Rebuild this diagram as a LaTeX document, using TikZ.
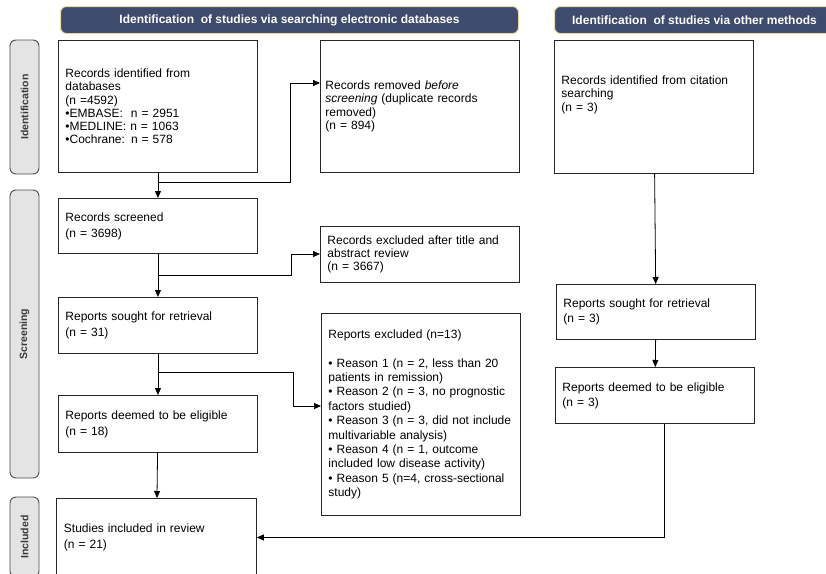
\documentclass[tikz,border=0pt]{standalone}
\usepackage{fontspec}
\setmainfont{Liberation Sans}
\usepackage{tikz}
\usetikzlibrary{arrows.meta, positioning, calc}
\definecolor{hdrblue}{HTML}{3F4B6C}
\definecolor{hdredge}{HTML}{E6DBA2}
\definecolor{sidegray}{HTML}{E4E4E4}
\definecolor{sidetext}{HTML}{3A3A3A}

\begin{document}
\begin{tikzpicture}[x=1pt, y=-1pt,
    box/.style={rectangle, draw=black!85, line width=0.9pt, anchor=north west, align=left, text width=185pt, inner xsep=7pt, minimum width=199pt, font=\fontsize{12}{16}\selectfont},
    hdr/.style={rectangle, rounded corners=6pt, draw=hdredge, fill=hdrblue, line width=1pt, anchor=north west, minimum height=27pt, text=white, font=\fontsize{12}{14}\selectfont\bfseries},
    side/.style={rectangle, rounded corners=6pt, draw=black!70, fill=sidegray, line width=0.9pt, rotate=90, minimum height=29pt, text=sidetext, font=\fontsize{10.5}{12}\selectfont\bfseries},
    arrow/.style={-{Triangle[length=7pt, width=6pt]}, line width=0.8pt}
]
\useasboundingbox (0,0) rectangle (826,573);
\clip (0,0) rectangle (826,573);

% headers and phase labels
\node[hdr, minimum width=458pt] (hdrdb) at (60,6) {Identification~ of studies via searching electronic databases};
\node[hdr, minimum width=280pt] (hdrother) at (554,6) {Identification~ of studies via other methods};
\node[side, minimum width=134pt] (labid) at (24.5,107) {Identification};
\node[side, minimum width=288pt] (labscr) at (24.5,334) {Screening};
\node[side, minimum width=80pt] (labinc) at (24.5,537) {Included};

% databases
\node[box, minimum height=132pt, font=\fontsize{12}{13.3}\selectfont] (db) at (58,40) {Records identified from\\databases\\(n =4592)\\•EMBASE:~ n = 2951\\•MEDLINE: n = 1063\\•Cochrane: n = 578};
\node[box, minimum height=132pt, inner xsep=5pt, text width=189pt, font=\fontsize{12}{13.3}\selectfont] (removed) at (320,40) {Records removed \textit{before}\\\textit{screening} (duplicate records\\removed)\\(n = 894)};
\node[box, minimum height=55pt] (screened) at (58,198) {Records screened\\(n = 3698)};
\node[box, minimum height=56pt, font=\fontsize{12}{13.3}\selectfont] (titleexcl) at (320,226) {Records excluded after title and\\abstract review\\(n = 3667)};
\node[box, minimum height=56pt] (sought) at (58,297) {Reports sought for retrieval\\(n = 31)};
\node[box, minimum height=202pt, font=\fontsize{12}{14.4}\selectfont] (repexcl) at (321,313) {Reports excluded (n=13)\\[14.4pt]• Reason 1 (n = 2, less than 20\\patients in remission)\\• Reason 2 (n = 3, no prognostic\\factors studied)\\• Reason 3 (n = 3, did not include\\multivariable analysis)\\• Reason 4 (n = 1, outcome\\included low disease activity)\\• Reason 5 (n=4, cross-sectional\\study)};
\node[box, minimum height=57pt] (eligible) at (58,395) {Reports deemed to be eligible\\(n = 18)};
\node[box, minimum height=78pt, minimum width=200pt] (included) at (56,498) {Studies included in review\\(n = 21)};

% other methods
\node[box, minimum height=133pt, font=\fontsize{12}{13.3}\selectfont] (citation) at (554,40) {Records identified from citation\\searching\\(n = 3)\\\mbox{}\\\mbox{}};
\node[box, minimum height=55pt, font=\fontsize{12}{15}\selectfont] (soughtcit) at (556,284) {Reports sought for retrieval\\(n = 3)};
\node[box, minimum height=56pt, font=\fontsize{12}{15}\selectfont] (eligiblecit) at (555,367) {Reports deemed to be eligible\\(n = 3)};

% junctions
\coordinate (j1) at (db.south |- 0,182);
\coordinate (k1) at (290,83);
\coordinate (j2) at (screened.south |- 0,275);
\coordinate (k2) at (291,254);
\coordinate (j3) at (sought.south |- 0,372);
\coordinate (k3) at (293,406);
\coordinate (c1) at ([xshift=9pt]eligiblecit.south);

\draw[arrow] (db) -- (screened);
\draw[arrow] (j1) -| (k1) -- (k1 -| removed.west);
\draw[arrow] (screened) -- (sought);
\draw[arrow] (j2) -| (k2) -- (k2 -| titleexcl.west);
\draw[arrow] (sought) -- (eligible);
\draw[arrow] (j3) -| (k3) -- (k3 -| repexcl.west);
\draw[arrow] (eligible) -- (included);
\draw[arrow] (citation) -- (soughtcit);
\draw[arrow] (soughtcit) -- (eligiblecit);
\draw[arrow] (c1) |- (included.east);
\end{tikzpicture}
\end{document}
